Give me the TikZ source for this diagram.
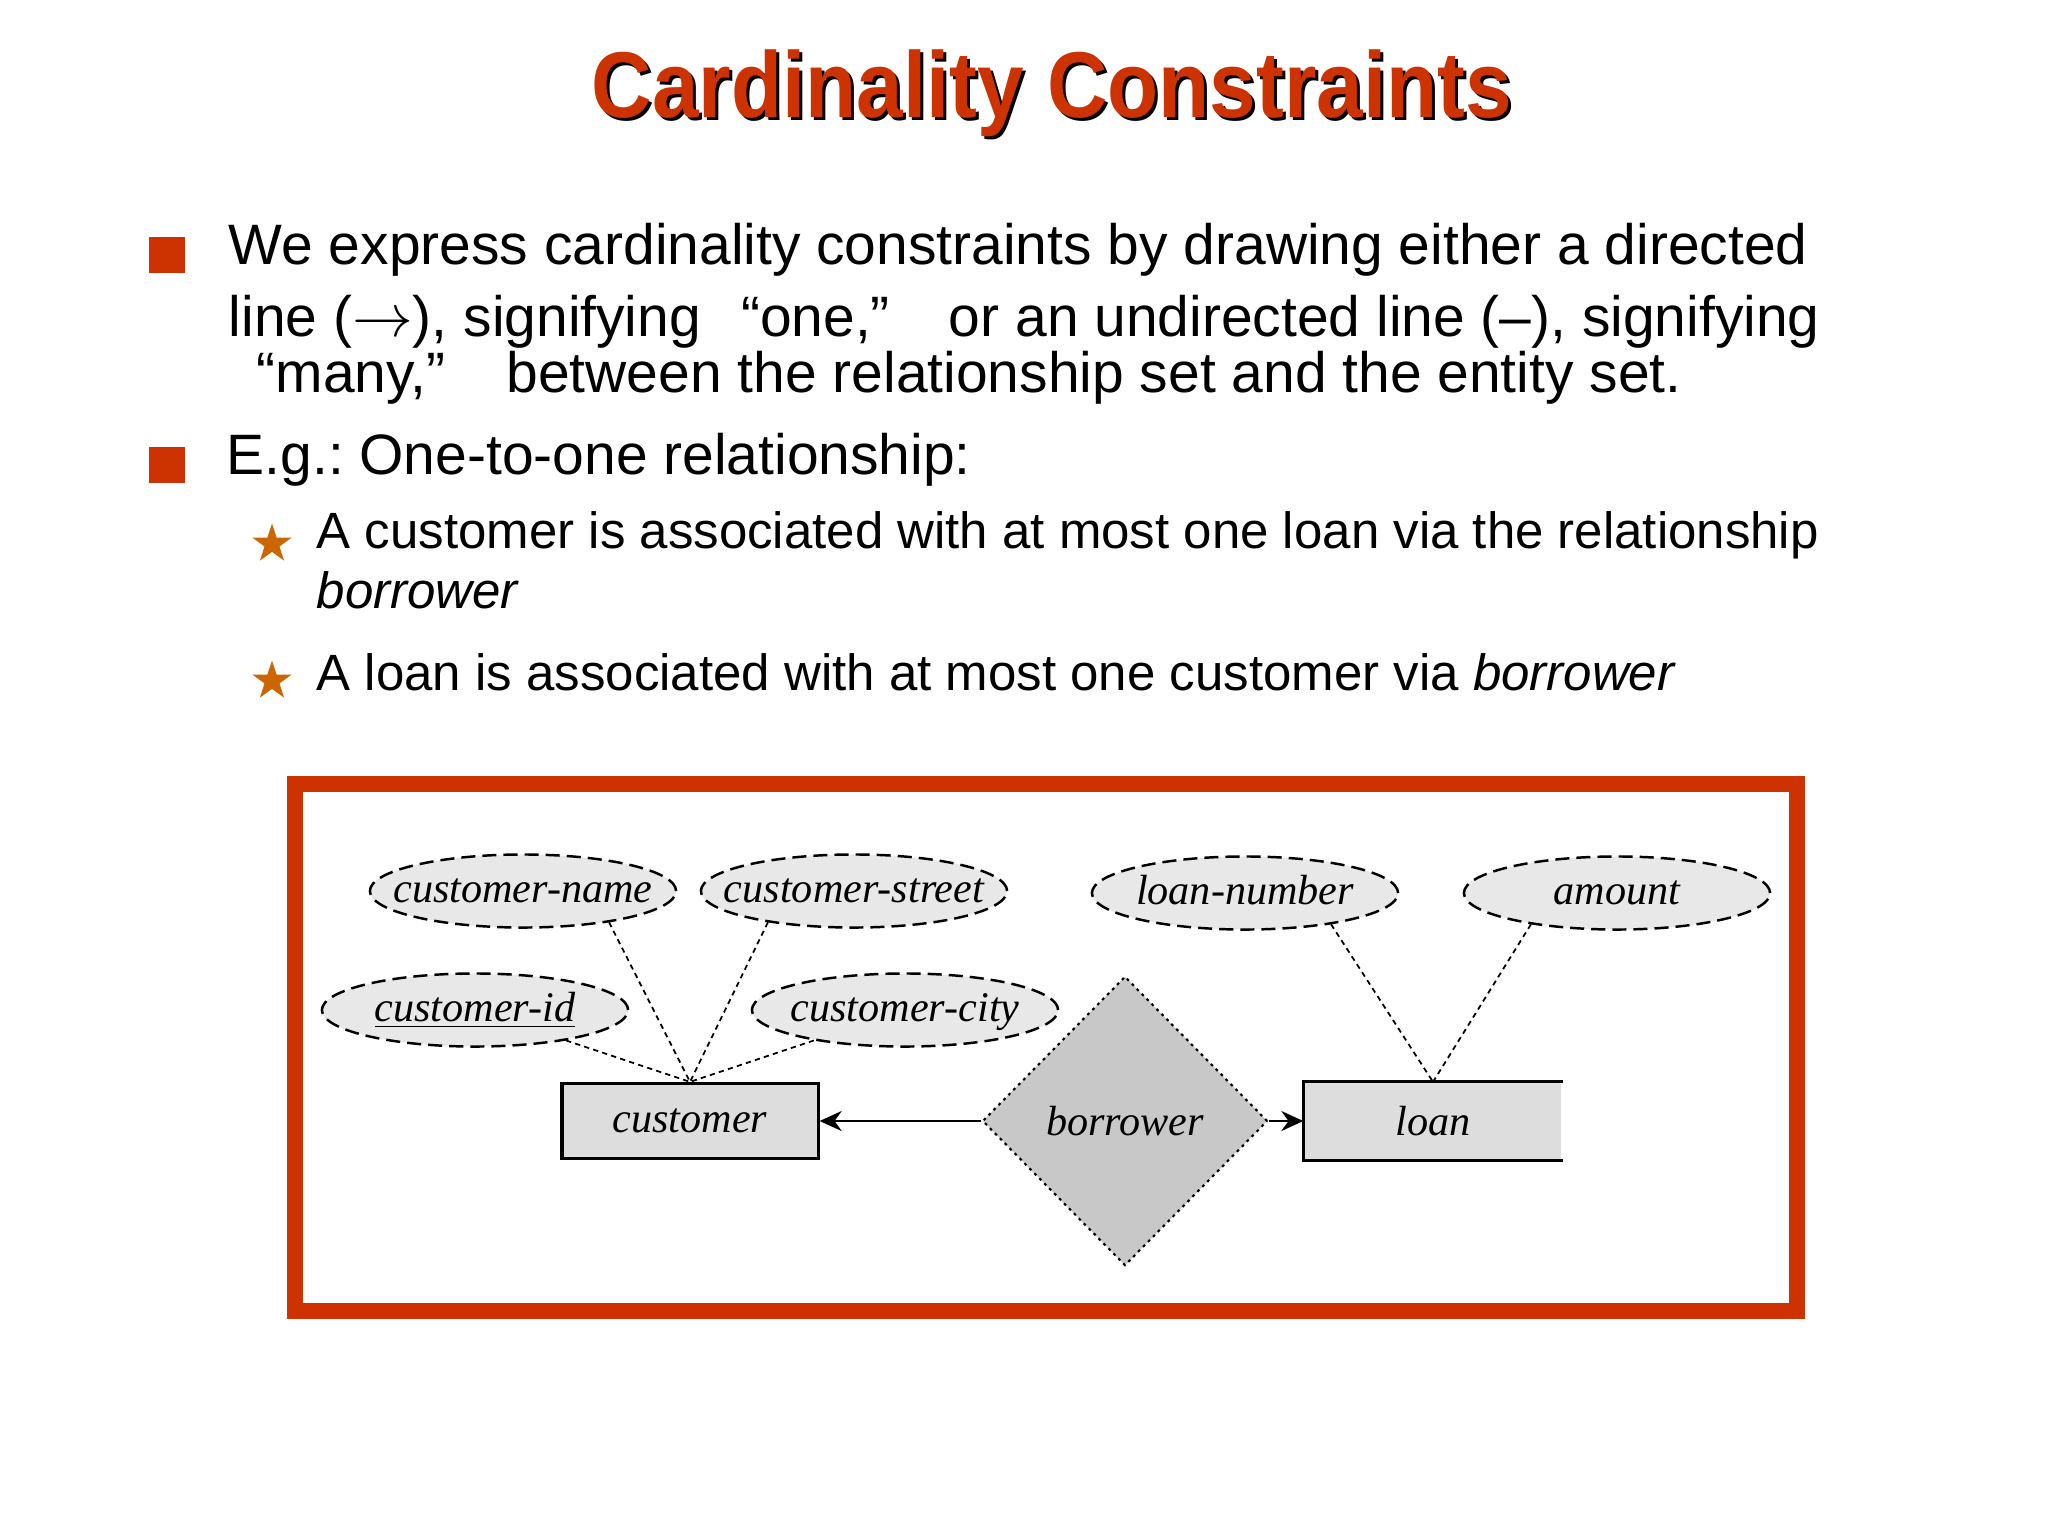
\documentclass[tikz,border=0pt]{standalone}
\usepackage{fontspec}
\setmainfont{Liberation Sans}
\newfontfamily\erfont{Liberation Serif}
\usepackage{xcolor}
\usepackage{graphicx}
\usepackage{tikz}
\usetikzlibrary{shapes.geometric,arrows.meta}
\definecolor{slidered}{RGB}{204, 51, 0}
\definecolor{starorange}{RGB}{204, 102, 0}
\definecolor{attrgray}{RGB}{232, 232, 232}
\definecolor{entgray}{RGB}{221, 221, 221}
\definecolor{relgray}{RGB}{200, 200, 200}
\frenchspacing

\begin{document}
\begin{tikzpicture}[
    x=0.01cm, y=-0.01cm,
    headline/.style={anchor=base, inner sep=0pt, font=\fontsize{26.6}{30}\selectfont\bfseries},
    body/.style={anchor=base west, inner sep=0pt, font=\fontsize{16.2}{19}\selectfont},
    subbody/.style={anchor=base west, inner sep=0pt, font=\fontsize{14.5}{17}\selectfont},
    sqbullet/.style={rectangle, fill=slidered, minimum size=0.35cm, inner sep=0pt},
    starbullet/.style={star, star points=5, star point ratio=2.6, fill=starorange,
                       minimum size=0.41cm, inner sep=0pt},
    erfonts/.style={font=\erfont\itshape\fontsize{12}{14}\selectfont},
    attr/.style={ellipse, draw=black, fill=attrgray, line width=0.7pt, dash pattern=on 4pt off 2pt,
                 minimum width=3.06cm, minimum height=0.73cm, inner sep=0pt,
                 text height=1.6ex, text depth=0.4ex, erfonts},
    entity/.style={rectangle, draw=black, fill=entgray, line width=0.9pt,
                   minimum width=2.56cm, minimum height=0.75cm, inner sep=0pt, erfonts},
    boxedge/.style={line width=0.9pt},
    rel/.style={diamond, aspect=1, draw=black, fill=relgray, line width=0.6pt,
                dash pattern=on 0.8pt off 1.2pt, minimum width=2.85cm, minimum height=2.89cm,
                inner sep=0pt, erfonts},
    link/.style={line width=0.5pt, dash pattern=on 1.5pt off 1.2pt},
    arrow/.style={-{Stealth[length=0.22cm, width=0.2cm]}, line width=0.7pt},
    frame/.style={draw=slidered, line width=0.165cm}
]
    \fill[white] (0,0) rectangle (2048,1536);
    \useasboundingbox (0,0) rectangle (2048,1536);

    % title with its shadow
    \node[headline, text=black] (titleshade) at (1055,120) {\scalebox{0.894}[1]{Cardinality Constraints}};
    \node[headline, text=slidered] (title) at (1052,117) {\scalebox{0.894}[1]{Cardinality Constraints}};

    % bullets
    \node[sqbullet] (sq1) at (167,255) {};
    \node[body] (line1) at (228,264) {We express cardinality constraints by drawing either a directed};
    \node[body] (line2) at (228,336) {line ($\rightarrow$), signifying\hspace{0.40cm}“one,”\hspace{0.59cm}or an undirected line (–), signifying};
    \node[body] (line3) at (256,392) {“many,”\hspace{0.61cm}between the relationship set and the entity set.};
    \node[sqbullet] (sq2) at (167,465) {};
    \node[body] (eg) at (226,474) {E.g.: One-to-one relationship:};
    \node[starbullet] (st1) at (272,544) {};
    \node[subbody] (sub1) at (316,548) {A customer is associated with at most one loan via the relationship};
    \node[subbody] (sub1b) at (316,608) {\itshape borrower};
    \node[starbullet] (st2) at (272,681) {};
    \node[subbody] (sub2) at (316,690) {A loan is associated with at most one customer via \textit{borrower}};

    % E-R diagram
    \draw[frame] (295,784) rectangle (1797,1311);
    \node[attr] (cname) at (523,891) {\makebox[0pt]{customer-name}};
    \node[attr] (cstreet) at (854,891) {\makebox[0pt]{customer-street}};
    \node[attr] (cid) at (475,1010) {\makebox[0pt]{\underline{customer-id}}};
    \node[attr] (ccity) at (905,1010) {\makebox[0pt]{customer-city}};
    \node[attr] (lnum) at (1245,893) {\makebox[0pt]{loan-number}};
    \node[attr] (amount) at (1617,893) {\makebox[0pt]{amount}};
    \node[entity] (cust) at (690,1121) {customer};
    \node[rel] (borrower) at (1125,1121) {borrower};
    \node[entity, draw=none] (loan) at (1433,1121) {loan};
    \draw[boxedge] (loan.north east) -- (loan.north west) -- (loan.south west) -- (loan.south east);

    \draw[link] (cname.-20) -- (cust.north);
    \draw[link] (cstreet.-160) -- (cust.north);
    \draw[link] (cid) -- (cust.north);
    \draw[link] (ccity) -- (cust.north);
    \draw[link] (lnum.-20) -- (loan.north);
    \draw[link] (amount.-160) -- (loan.north);
    \draw[arrow] (borrower) -- (cust);
    \draw[arrow] (borrower) -- (loan);
\end{tikzpicture}
\end{document}
